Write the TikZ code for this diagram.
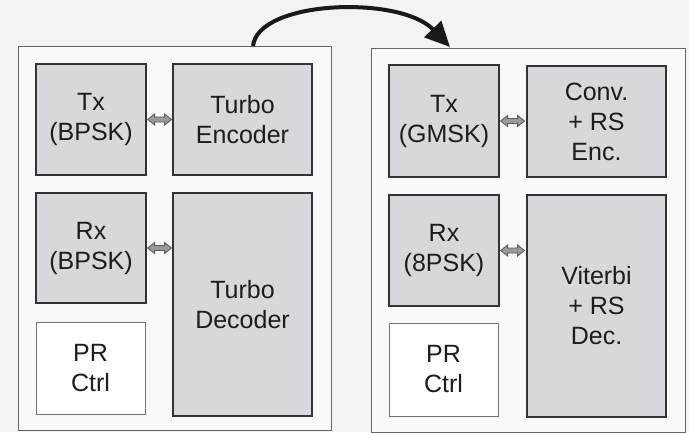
\documentclass[tikz,border=0pt]{standalone}
\usepackage{fontspec}
\setmainfont{Liberation Sans}
\usetikzlibrary{arrows.meta,calc}
\definecolor{pagebg}{HTML}{F3F3F3}
\definecolor{panelbg}{HTML}{F9F9F9}
\definecolor{boxfill}{HTML}{D8D8DC}
\definecolor{boxline}{HTML}{333333}
\definecolor{txtcol}{HTML}{1C1C1C}
\tikzset{
  panel/.style={draw=black!60, line width=1pt, fill=panelbg, inner sep=0pt, outer sep=0pt},
  blk/.style={draw=boxline, line width=2.2pt, fill=boxfill, inner sep=0pt, outer sep=0pt,
    align=center, text=txtcol, font=\fontsize{25}{30}\selectfont},
  ctrl/.style={draw=black!55, line width=1pt, fill=white, inner sep=0pt, outer sep=0pt,
    align=center, text=txtcol, font=\fontsize{25}{30}\selectfont},
  link/.style={draw=black!65, line width=0.8pt, fill=black!40, line join=miter},
  bigarrow/.style={line width=4pt, draw=black!90, -{Triangle[length=25pt,width=23pt]}}
}
\newcommand{\dblarrow}[1]{%
  \draw[link] ($(#1)+(1.6,0)$) -- ++(7,-5.5) -- ++(0,3) -- ++(10,0) -- ++(0,-3)
    -- ++(7,5.5) -- ++(-7,5.5) -- ++(0,-3) -- ++(-10,0) -- ++(0,3) -- cycle;}
\begin{document}
\begin{tikzpicture}[x=1pt,y=-1pt]
\useasboundingbox[fill=pagebg] (0,0) rectangle (689,432);
% panels
\node[panel, minimum width=313pt, minimum height=384pt] (L) at (174.5,238) {};
\node[panel, minimum width=314pt, minimum height=384pt] (R) at (528,240) {};
% left blocks
\node[blk, minimum width=110pt, minimum height=111pt] (txL) at (91,119.5) {Tx\\(BPSK)};
\node[blk, minimum width=139pt, minimum height=111pt] (encL) at (242.5,119.5) {Turbo\\Encoder};
\node[blk, minimum width=110pt, minimum height=110pt] (rxL) at (91,248) {Rx\\(BPSK)};
\node[ctrl, minimum width=109pt, minimum height=92pt] (prL) at (90.5,368) {PR\\Ctrl};
\node[blk, minimum width=139pt, minimum height=223pt] (decL) at (242.5,304.5) {Turbo\\Decoder};
% right blocks
\node[blk, minimum width=110pt, minimum height=112pt] (txR) at (444,121) {Tx\\(GMSK)};
\node[blk, minimum width=139pt, minimum height=111pt] (encR) at (596.5,121.5) {Conv.\\+ RS\\Enc.};
\node[blk, minimum width=110pt, minimum height=111pt] (rxR) at (444,250.5) {Rx\\(8PSK)};
\node[ctrl, minimum width=109pt, minimum height=93pt] (prR) at (443.5,369.5) {PR\\Ctrl};
\node[blk, minimum width=139pt, minimum height=222pt] (decR) at (596.5,306) {Viterbi\\+ RS\\Dec.};
% links (double block arrows)
\dblarrow{txL.east}
\dblarrow{rxL.east}
\dblarrow{txR.east}
\dblarrow{rxR.east}
% big curved arrow
\coordinate (s) at ([xshift=235pt]L.north west);
\coordinate (e) at ([xshift=79pt,yshift=1pt]R.north west);
\draw[bigarrow] (s) .. controls (258,0) and (400,-5) .. (e);
\end{tikzpicture}
\end{document}
